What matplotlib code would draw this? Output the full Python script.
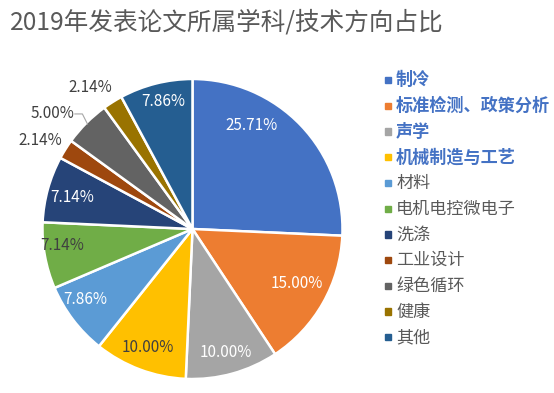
import numpy as np
import matplotlib
matplotlib.use("Agg")
import matplotlib.pyplot as plt

plt.rcParams['font.family'] = ['Noto Sans CJK SC', 'DejaVu Sans']

categories = ['制冷', '标准检测、政策分析', '声学', '机械制造与工艺', '材料', '电机电控微电子',
              '洗涤', '工业设计', '绿色循环', '健康', '其他']
shares = [25.71, 15.00, 10.00, 10.00, 7.86, 7.14, 7.14, 2.14, 5.00, 2.14, 7.86]
colors = ['#4472C4', '#ED7D31', '#A5A5A5', '#FFC000', '#5B9BD5', '#70AD47',
          '#264478', '#9E480E', '#636363', '#997300', '#255E91']
label_colors = ['white', 'white', 'white', '#404040', 'white', '#404040',
                'white', '#404040', '#404040', '#404040', 'white']
bold_legend = [True, True, True, True] + [False] * 7

# data-label positions as placed by the original chart (pie radius = 1)
label_pos = [(0.395, 0.687), (0.694, -0.36), (0.223, -0.82), (-0.296, -0.793),
             (-0.714, -0.473), (-0.867, -0.113), (-0.80, 0.207), (-1.013, 0.587),
             (-0.934, 0.767), (-0.681, 0.94), (-0.196, 0.847)]

fig = plt.figure(figsize=(5.54, 3.93), dpi=100)
fig.text(0.018, 0.943, '2019年发表论文所属学科/技术方向占比', fontsize=17.7,
         color='#595959', va='center', ha='left')

ax = fig.add_axes([0.0758, 0.0356, 0.5433, 0.7634])
wedges, _ = ax.pie(shares, colors=colors, startangle=90, counterclock=False,
                   wedgeprops=dict(edgecolor='white', linewidth=1.8))
for w in wedges:
    w.set_clip_on(False)
ax.set_xlim(-1, 1)
ax.set_ylim(-1, 1)
ax.set_aspect('equal')
ax.axis('off')

for i, w in enumerate(wedges):
    x, y = label_pos[i]
    if i == 8:
        ang = np.deg2rad((w.theta1 + w.theta2) / 2)
        ex, ey = 0.99 * np.cos(ang), 0.99 * np.sin(ang)
        ax.plot([x + 0.15, x + 0.2, ex], [y, y, ey], color='#A6A6A6', lw=0.8,
                clip_on=False)
    ax.text(x, y, f'{shares[i]:.2f}%', ha='center', va='center', fontsize=11,
            color=label_colors[i])

y0 = 0.796
dy = 0.0654
for i, name in enumerate(categories):
    y = y0 - i * dy
    fig.patches.append(plt.Rectangle((0.695, y - 0.008), 0.011, 0.016,
                                     transform=fig.transFigure, color=colors[i]))
    fig.text(0.715, y, name, fontsize=12.3, va='center', ha='left',
             color='#4472C4' if bold_legend[i] else '#595959',
             fontweight='bold' if bold_legend[i] else 'normal')

fig.savefig('out.png', dpi=100)
